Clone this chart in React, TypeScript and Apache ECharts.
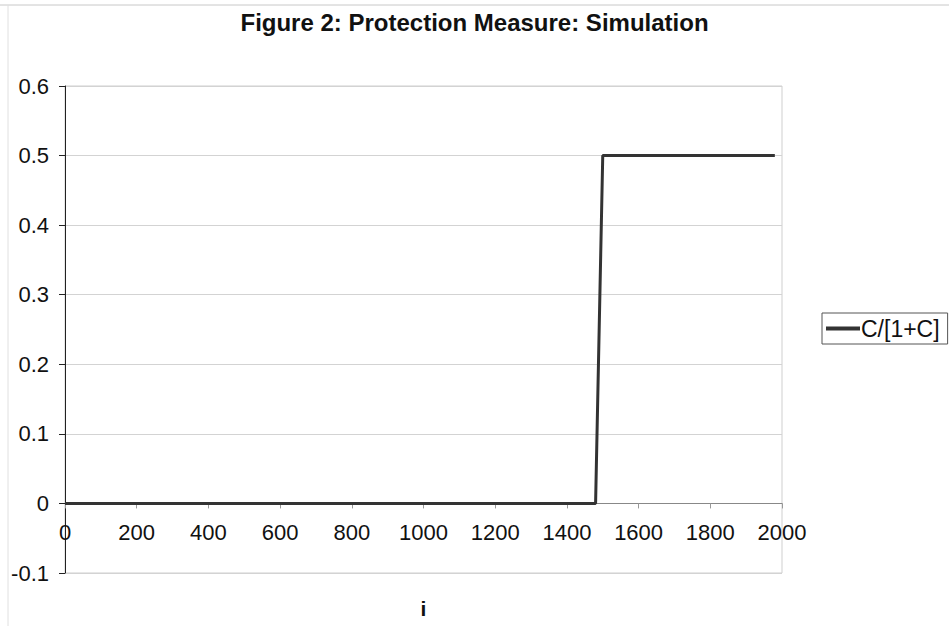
import React, { useEffect, useRef } from "react";
import * as echarts from "echarts";

const titleText = "Figure 2: Protection Measure: Simulation";
const seriesName = "C/[1+C]";
const xValues = [0, 1480, 1500, 1980];
const yValues = [0, 0, 0.5, 0.5];
const xAxisName = "i";
const yMin = -0.1;
const yMax = 0.6;

export default function App() {
  const ref = useRef<HTMLDivElement>(null);
  useEffect(() => {
    if (!ref.current) return;
    const chart = echarts.init(ref.current, null, { renderer: "svg" });
    const font = "Liberation Sans, Arial, sans-serif";
    const gridTop = 86;
    const gridBottom = 53;
    const gridHeight = 626 - gridTop - gridBottom;
    const zeroOffset = -(gridHeight * (0 - yMin)) / (yMax - yMin);
    chart.setOption({
      animation: false,
      backgroundColor: "#ffffff",
      title: {
        text: titleText,
        left: "center",
        top: 5,
        textStyle: { fontFamily: font, fontSize: 24, fontWeight: "bold", color: "#111" },
      },
      grid: {
        left: 65,
        right: 167,
        top: gridTop,
        bottom: gridBottom,
        outerBoundsMode: "none",
        containLabel: false,
        show: true,
        borderColor: "#cfcfcf",
        borderWidth: 1,
      },
      legend: {
        left: 822,
        top: 313,
        orient: "vertical",
        borderColor: "#555",
        borderWidth: 1,
        borderRadius: 0,
        padding: [4, 8, 4, 4],
        icon: "rect",
        itemWidth: 34,
        itemHeight: 4,
        itemGap: 4,
        textStyle: { fontFamily: font, fontSize: 23, color: "#111", padding: [0, 0, 0, -4] },
        data: [seriesName],
      },
      xAxis: {
        type: "value",
        min: 0,
        max: 2000,
        interval: 200,
        offset: zeroOffset,
        name: xAxisName,
        nameLocation: "middle",
        nameGap: 95,
        nameTextStyle: { fontFamily: font, fontSize: 21, fontWeight: "bold", color: "#111" },
        axisLine: { onZero: false, lineStyle: { color: "#888", width: 1 } },
        axisTick: { show: true, inside: false, length: 5, lineStyle: { color: "#999" } },
        axisLabel: {
          fontFamily: font,
          fontSize: 22,
          color: "#111",
          margin: 18,
          formatter: (v: number) => String(v),
        },
        splitLine: { show: false },
      },
      yAxis: {
        type: "value",
        min: yMin,
        max: yMax,
        interval: 0.1,
        axisLine: { show: true, lineStyle: { color: "#222", width: 1 } },
        axisTick: { show: true, length: 6, lineStyle: { color: "#222" } },
        axisLabel: {
          fontFamily: font,
          fontSize: 22,
          color: "#111",
          margin: 16,
          formatter: (v: number) => {
            const r = Math.round(v * 10) / 10;
            return r === 0 ? "0" : String(r);
          },
        },
        splitLine: { show: true, lineStyle: { color: "#d3d3d3", width: 1 } },
      },
      graphic: [
        { type: "line", shape: { x1: 0, y1: 5, x2: 949, y2: 5 }, style: { stroke: "#c8c8c8", lineWidth: 1 } },
        { type: "line", shape: { x1: 8, y1: 5, x2: 8, y2: 626 }, style: { stroke: "#e0e0e0", lineWidth: 1 } },
      ],
      series: [
        {
          name: seriesName,
          type: "line",
          data: xValues.map((x, i) => [x, yValues[i]]),
          showSymbol: false,
          symbol: "none",
          lineStyle: { color: "#333", width: 3 },
          itemStyle: { color: "#333" },
        },
      ],
    });
    return () => chart.dispose();
  }, []);
  return <div ref={ref} style={{ position: "fixed", left: 0, top: 0, width: 949, height: 626 }} />;
}
